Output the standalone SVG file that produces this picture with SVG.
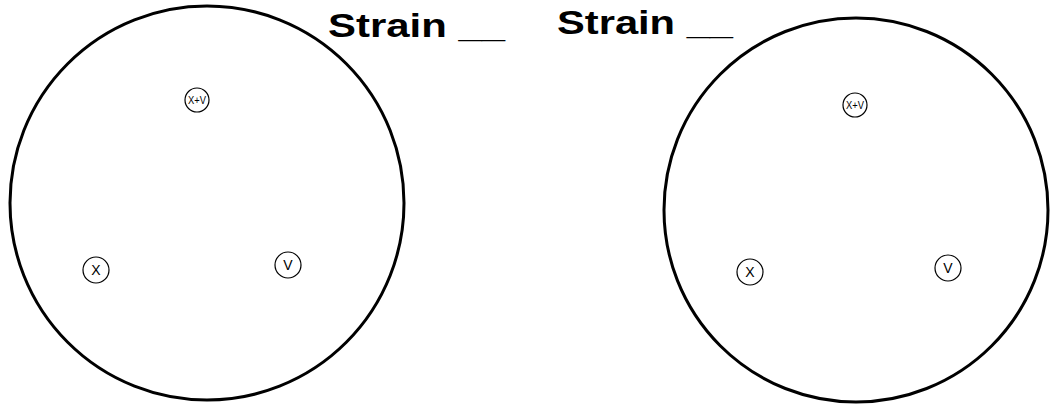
<svg xmlns="http://www.w3.org/2000/svg" width="1050" height="407" viewBox="0 0 1050 407">
<style>
.plate{fill:none;stroke:#000;stroke-width:3}
.spot{fill:none;stroke:#000;stroke-width:1.2}
.lbl{font-family:"Liberation Sans",Arial,sans-serif;font-size:14px;text-anchor:middle}
.lbl-s{font-family:"Liberation Sans",Arial,sans-serif;font-size:11px;text-anchor:middle}
.title{font-family:"Liberation Sans",Arial,sans-serif;font-size:33px;font-weight:bold}
</style>
<rect width="1050" height="407" fill="#fff"/>
<g id="plate-left">
<circle class="plate" cx="207" cy="203" r="197"/>
</g>
<g id="plate-right">
<circle class="plate" cx="856" cy="210" r="192"/>
</g>
<g id="spot-left-xv"><circle class="spot" cx="197" cy="100" r="12"/><text class="lbl-s" x="197" y="104" textLength="18" lengthAdjust="spacingAndGlyphs">X+V</text></g>
<g id="spot-left-x"><circle class="spot" cx="96" cy="270" r="13"/><text class="lbl" x="96" y="275">X</text></g>
<g id="spot-left-v"><circle class="spot" cx="288" cy="265" r="13"/><text class="lbl" x="288" y="270">V</text></g>
<g id="spot-right-xv"><circle class="spot" cx="855" cy="105" r="12"/><text class="lbl-s" x="855" y="109" textLength="18" lengthAdjust="spacingAndGlyphs">X+V</text></g>
<g id="spot-right-x"><circle class="spot" cx="750" cy="272" r="13"/><text class="lbl" x="750" y="277">X</text></g>
<g id="spot-right-v"><circle class="spot" cx="948" cy="268" r="13"/><text class="lbl" x="948" y="273">V</text></g>
<g id="label-1"><text class="title" x="328" y="37" textLength="177" lengthAdjust="spacingAndGlyphs">Strain __</text></g>
<g id="label-2"><text class="title" x="557" y="34" textLength="176" lengthAdjust="spacingAndGlyphs">Strain __</text></g>
<g id="connectors"/>
</svg>
